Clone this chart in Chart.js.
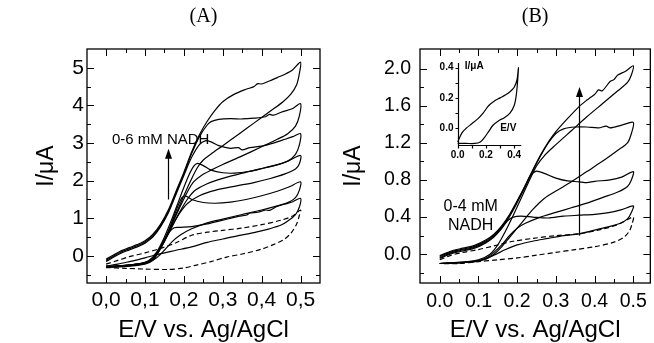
<!DOCTYPE html>
<html>
<head>
<meta charset="utf-8">
<script src="https://cdn.jsdelivr.net/npm/chart.js@4.4.1/dist/chart.umd.min.js"></script>
<style>
  html, body { margin: 0; padding: 0; background: #fff; }
  #wrap { position: relative; width: 654px; height: 343px; overflow: hidden; }
  #wrap canvas { position: absolute; }
</style>
</head>
<body>
<div id="wrap">
  <canvas id="chartA" width="327" height="343" style="left:0;top:0"></canvas>
  <canvas id="chartB" width="327" height="343" style="left:327px;top:0"></canvas>
</div>
<script>
// ---------- Data: panel A (E / V, I / uA), each loop = forward then reverse ----------
const loopA0 = [[0,-0.22],[0.03,-0.12],[0.06,-0.02],[0.1,0.08],[0.14,0.2],[0.18,0.35],[0.22,0.55],[0.26,0.63],[0.3,0.68],[0.35,0.74],[0.4,0.83],[0.45,0.95],[0.48,1.06],[0.5,1.22],
  [0.497,1.08],[0.49,0.85],[0.475,0.6],[0.455,0.42],[0.43,0.3],[0.4,0.18],[0.35,0.05],[0.31,-0.03],[0.27,-0.15],[0.23,-0.25],[0.2,-0.32],[0.16,-0.36],[0.1,-0.35],[0.05,-0.33],[0,-0.31]];
const loopA1 = [[0,-0.3],[0.05,-0.28],[0.1,-0.22],[0.12,-0.12],[0.14,0.2],[0.16,0.6],[0.175,0.75],[0.19,0.76],[0.22,0.78],[0.26,0.85],[0.3,0.95],[0.34,1.05],[0.36,1.08],[0.37,1.14],[0.39,1.16],[0.41,1.22],[0.42,1.21],[0.44,1.32],[0.46,1.38],[0.48,1.44],[0.5,1.53],
  [0.497,1.3],[0.487,1.1],[0.47,0.95],[0.45,0.82],[0.42,0.72],[0.38,0.62],[0.34,0.54],[0.3,0.45],[0.26,0.36],[0.22,0.24],[0.18,0.15],[0.14,0.06],[0.1,-0.05],[0.06,-0.15],[0.03,-0.22],[0,-0.27]];
const loopA2 = [[0,-0.3],[0.05,-0.27],[0.09,-0.22],[0.12,-0.1],[0.14,0.2],[0.16,0.65],[0.18,1.2],[0.195,1.55],[0.205,1.59],[0.22,1.5],[0.25,1.42],[0.28,1.4],[0.32,1.43],[0.36,1.5],[0.4,1.6],[0.44,1.72],[0.47,1.83],[0.5,1.97],
  [0.497,1.75],[0.487,1.55],[0.47,1.43],[0.44,1.33],[0.4,1.22],[0.35,1.1],[0.3,0.98],[0.26,0.88],[0.22,0.72],[0.19,0.55],[0.17,0.38],[0.15,0.15],[0.13,-0.05],[0.11,-0.17],[0.08,-0.24],[0.04,-0.27],[0,-0.3]];
const loopA3 = [[0,-0.28],[0.04,-0.26],[0.08,-0.22],[0.11,-0.12],[0.13,0.1],[0.15,0.5],[0.17,1.0],[0.19,1.55],[0.21,2.08],[0.225,2.38],[0.235,2.46],[0.25,2.4],[0.27,2.28],[0.3,2.21],[0.33,2.2],[0.37,2.25],[0.4,2.32],[0.44,2.42],[0.47,2.53],[0.5,2.67],
  [0.497,2.45],[0.487,2.31],[0.46,2.18],[0.42,2.05],[0.38,1.95],[0.33,1.85],[0.28,1.74],[0.24,1.6],[0.21,1.4],[0.19,1.15],[0.17,0.8],[0.15,0.4],[0.13,0.05],[0.11,-0.15],[0.08,-0.23],[0.04,-0.27],[0,-0.29]];
const loopA4 = [[0,-0.15],[0.02,-0.03],[0.04,0.08],[0.06,0.16],[0.08,0.24],[0.1,0.34],[0.12,0.5],[0.14,0.77],[0.16,1.14],[0.18,1.64],[0.2,2.14],[0.22,2.62],[0.24,2.96],[0.255,3.06],[0.27,3.03],[0.29,2.93],[0.32,2.86],[0.34,2.88],[0.35,2.82],[0.37,2.88],[0.4,2.92],[0.43,3.0],[0.46,3.1],[0.48,3.17],[0.5,3.25],
  [0.497,2.95],[0.487,2.7],[0.467,2.52],[0.43,2.4],[0.39,2.3],[0.35,2.2],[0.3,2.06],[0.26,1.92],[0.23,1.75],[0.21,1.52],[0.19,1.18],[0.17,0.78],[0.15,0.38],[0.13,0.04],[0.11,-0.15],[0.08,-0.23],[0.04,-0.27],[0,-0.29]];
const loopA5 = [[0,-0.12],[0.02,0.0],[0.04,0.11],[0.06,0.19],[0.08,0.27],[0.1,0.37],[0.12,0.53],[0.14,0.8],[0.16,1.18],[0.18,1.68],[0.2,2.18],[0.22,2.72],[0.24,3.17],[0.26,3.48],[0.27,3.57],[0.29,3.63],[0.32,3.65],[0.35,3.64],[0.38,3.66],[0.41,3.7],[0.42,3.76],[0.43,3.74],[0.45,3.82],[0.48,3.92],[0.5,4.05],
  [0.497,3.72],[0.487,3.45],[0.467,3.25],[0.44,3.1],[0.4,2.9],[0.35,2.66],[0.3,2.43],[0.27,2.28],[0.245,2.14],[0.225,1.97],[0.21,1.72],[0.19,1.3],[0.17,0.85],[0.15,0.42],[0.13,0.06],[0.11,-0.14],[0.08,-0.22],[0.04,-0.26],[0,-0.28]];
const loopA6 = [[0,-0.09],[0.02,0.03],[0.04,0.14],[0.06,0.22],[0.08,0.3],[0.1,0.4],[0.12,0.57],[0.14,0.84],[0.16,1.22],[0.18,1.72],[0.2,2.22],[0.22,2.76],[0.24,3.22],[0.26,3.58],[0.28,3.87],[0.3,4.1],[0.33,4.3],[0.36,4.43],[0.38,4.5],[0.39,4.58],[0.4,4.57],[0.42,4.65],[0.44,4.74],[0.46,4.83],[0.48,4.95],[0.5,5.15],
  [0.497,4.85],[0.49,4.55],[0.475,4.3],[0.455,4.1],[0.42,3.83],[0.38,3.53],[0.34,3.23],[0.3,2.93],[0.27,2.71],[0.25,2.55],[0.235,2.35],[0.22,2.05],[0.2,1.6],[0.18,1.12],[0.16,0.65],[0.14,0.22],[0.12,-0.08],[0.1,-0.18],[0.06,-0.24],[0.03,-0.27],[0,-0.29]];

// ---------- Data: panel B ----------
const loopB0 = [[0,-0.06],[0.03,-0.01],[0.06,0.02],[0.1,0.05],[0.14,0.09],[0.19,0.14],[0.24,0.17],[0.3,0.2],[0.36,0.22],[0.42,0.27],[0.46,0.32],[0.5,0.4],
  [0.497,0.33],[0.49,0.25],[0.475,0.18],[0.45,0.13],[0.4,0.08],[0.35,0.05],[0.3,0.02],[0.25,-0.01],[0.2,-0.04],[0.15,-0.06],[0.1,-0.08],[0.05,-0.1],[0,-0.1]];
const loopB1 = [[0,-0.045],[0.03,0.005],[0.06,0.035],[0.09,0.065],[0.12,0.125],[0.14,0.185],[0.16,0.275],[0.175,0.36],[0.19,0.4],[0.21,0.41],[0.24,0.4],[0.28,0.39],[0.32,0.41],[0.36,0.42],[0.4,0.43],[0.44,0.45],[0.47,0.48],[0.5,0.52],
  [0.495,0.45],[0.485,0.38],[0.465,0.33],[0.44,0.3],[0.4,0.26],[0.36,0.22],[0.32,0.2],[0.28,0.17],[0.24,0.14],[0.2,0.1],[0.17,0.05],[0.14,-0.01],[0.11,-0.06],[0.07,-0.08],[0.03,-0.09],[0,-0.1]];
const loopB2 = [[0,-0.035],[0.03,0.015],[0.06,0.045],[0.09,0.075],[0.12,0.135],[0.14,0.195],[0.16,0.285],[0.18,0.405],[0.2,0.555],[0.22,0.72],[0.235,0.85],[0.25,0.895],[0.27,0.87],[0.3,0.82],[0.33,0.79],[0.36,0.78],[0.38,0.77],[0.4,0.785],[0.44,0.8],[0.47,0.83],[0.5,0.89],
  [0.495,0.8],[0.485,0.73],[0.46,0.67],[0.42,0.61],[0.38,0.55],[0.34,0.5],[0.3,0.45],[0.26,0.4],[0.22,0.33],[0.2,0.28],[0.18,0.2],[0.16,0.1],[0.14,0.02],[0.12,-0.04],[0.09,-0.08],[0.05,-0.09],[0,-0.1]];
const loopB3 = [[0,-0.025],[0.03,0.025],[0.06,0.055],[0.09,0.085],[0.12,0.145],[0.14,0.205],[0.16,0.295],[0.18,0.415],[0.2,0.565],[0.22,0.725],[0.24,0.895],[0.26,1.055],[0.28,1.195],[0.3,1.3],[0.32,1.35],[0.35,1.37],[0.38,1.37],[0.41,1.36],[0.43,1.38],[0.44,1.36],[0.47,1.39],[0.5,1.42],
  [0.495,1.3],[0.485,1.2],[0.46,1.12],[0.42,1.0],[0.38,0.89],[0.34,0.78],[0.3,0.68],[0.27,0.6],[0.24,0.48],[0.22,0.38],[0.2,0.28],[0.18,0.18],[0.16,0.08],[0.14,0.0],[0.12,-0.05],[0.09,-0.08],[0.05,-0.09],[0,-0.1]];
const loopB4 = [[0,-0.015],[0.03,0.035],[0.06,0.065],[0.09,0.095],[0.12,0.155],[0.14,0.215],[0.16,0.305],[0.18,0.425],[0.2,0.575],[0.22,0.735],[0.24,0.905],[0.26,1.065],[0.28,1.205],[0.3,1.32],[0.33,1.46],[0.36,1.59],[0.38,1.66],[0.39,1.69],[0.4,1.72],[0.41,1.77],[0.42,1.76],[0.44,1.86],[0.45,1.88],[0.46,1.93],[0.48,1.97],[0.5,2.03],
  [0.495,1.93],[0.485,1.85],[0.46,1.76],[0.42,1.62],[0.38,1.48],[0.34,1.33],[0.3,1.18],[0.27,1.06],[0.25,0.95],[0.23,0.78],[0.21,0.6],[0.19,0.42],[0.17,0.25],[0.15,0.1],[0.13,0.0],[0.1,-0.06],[0.06,-0.09],[0,-0.1]];

// ---------- Data: inset of panel B ----------
const loopInset = [[0,-0.09],[0.03,-0.03],[0.06,0.0],[0.1,0.03],[0.14,0.06],[0.18,0.1],[0.22,0.15],[0.26,0.18],[0.3,0.2],[0.34,0.22],[0.37,0.24],[0.4,0.27],[0.42,0.32],[0.43,0.4],
  [0.425,0.32],[0.415,0.22],[0.4,0.15],[0.37,0.1],[0.33,0.07],[0.29,0.05],[0.25,0.02],[0.22,-0.02],[0.19,-0.06],[0.16,-0.09],[0.12,-0.1],[0.06,-0.1],[0,-0.1]];

// ---------- Ticks ----------
const xTickVals = [0, 0.1, 0.2, 0.3, 0.4, 0.5];
const xMinor = [0.05, 0.15, 0.25, 0.35, 0.45];
const xLabelsA = ['0,0', '0,1', '0,2', '0,3', '0,4', '0,5'];
const xLabelsB = ['0.0', '0.1', '0.2', '0.3', '0.4', '0.5'];
const yTickValsA = [0, 1, 2, 3, 4, 5];
const yLabelsA = ['0', '1', '2', '3', '4', '5'];
const yMinorA = [-0.5, 0.5, 1.5, 2.5, 3.5, 4.5];
const yTickValsB = [0, 0.4, 0.8, 1.2, 1.6, 2.0];
const yLabelsB = ['0.0', '0.4', '0.8', '1.2', '1.6', '2.0'];
const yMinorB = [-0.2, 0.2, 0.6, 1.0, 1.4, 1.8];
const insetXVals = [0, 0.1, 0.2, 0.3, 0.4];
const insetXLabels = ['0.0', '', '0.2', '', '0.4'];
const insetYVals = [0, 0.1, 0.2, 0.3, 0.4];
const insetYLabels = ['0.0', '', '0.2', '', '0.4'];
const insetXRange = [0, 0.45];
const insetYRange = [-0.11, 0.43];

// hidden scales of panel B that put the inset in its upper-left corner
const insetScaleX = { min: -0.267, max: 1.364 };
const insetScaleY = { min: -1.019, max: 0.522 };

// tick sets for the framed panels, keyed by canvas id
const frameSets = {
  chartA: { xMajor: xTickVals, xMinor: xMinor, yMajor: yTickValsA, yMinor: yMinorA },
  chartB: { xMajor: xTickVals, xMinor: xMinor, yMajor: yTickValsB, yMinor: yMinorB }
};

Chart.defaults.font.family = "'Liberation Sans', Arial, sans-serif";
Chart.defaults.color = '#000';

// ---------- Drawing helpers ----------
function drawFrame(ctx, a, sx, sy, t) {
  ctx.lineWidth = 1.3;
  ctx.strokeRect(a.left, a.top, a.right - a.left, a.bottom - a.top);
  ctx.lineWidth = 1;
  ctx.beginPath();
  t.xMajor.map(v => [v, 7]).concat(t.xMinor.map(v => [v, 4])).forEach(([v, len]) => {
    const p = Math.round(sx.getPixelForValue(v)) + 0.5;
    ctx.moveTo(p, a.bottom); ctx.lineTo(p, a.bottom - len);
    ctx.moveTo(p, a.top); ctx.lineTo(p, a.top + len);
  });
  t.yMajor.map(v => [v, 7]).concat(t.yMinor.map(v => [v, 4])).forEach(([v, len]) => {
    const p = Math.round(sy.getPixelForValue(v)) + 0.5;
    ctx.moveTo(a.left, p); ctx.lineTo(a.left + len, p);
    ctx.moveTo(a.right, p); ctx.lineTo(a.right - len, p);
  });
  ctx.stroke();
}

function drawInsetAxes(ctx, sx, sy) {
  const x0 = Math.round(sx.getPixelForValue(insetXRange[0])) + 0.5;
  const x1 = sx.getPixelForValue(insetXRange[1]);
  const y0 = Math.round(sy.getPixelForValue(insetYRange[0])) + 0.5;
  const y1 = sy.getPixelForValue(insetYRange[1]);
  ctx.lineWidth = 1.2;
  ctx.beginPath();
  ctx.moveTo(x0, y1); ctx.lineTo(x0, y0); ctx.lineTo(x1, y0);
  insetXVals.forEach(v => {
    const p = Math.round(sx.getPixelForValue(v)) + 0.5;
    ctx.moveTo(p, y0); ctx.lineTo(p, y0 + 3);
  });
  insetYVals.forEach(v => {
    const p = Math.round(sy.getPixelForValue(v)) + 0.5;
    ctx.moveTo(x0, p); ctx.lineTo(x0 - 3, p);
  });
  ctx.stroke();
  ctx.font = "bold 10px 'Liberation Sans', Arial, sans-serif";
  ctx.textBaseline = 'middle';
  ctx.textAlign = 'center';
  insetXVals.forEach((v, i) => ctx.fillText(insetXLabels[i], sx.getPixelForValue(v), y0 + 10));
  ctx.textAlign = 'right';
  insetYVals.forEach((v, i) => ctx.fillText(insetYLabels[i], x0 - 5, sy.getPixelForValue(v)));
}

// ---------- Plugin: frame, inset axes, heading, texts and arrows ----------
const decor = {
  id: 'decor',
  afterDraw(chart, args, o) {
    const { ctx, chartArea: a } = chart;
    ctx.save();
    ctx.setLineDash([]);
    ctx.fillStyle = '#000';
    ctx.strokeStyle = '#000';
    const t = frameSets[chart.canvas.id];
    if (t) drawFrame(ctx, a, chart.scales.x, chart.scales.y, t);
    if (chart.scales.xi && chart.scales.yi) drawInsetAxes(ctx, chart.scales.xi, chart.scales.yi);
    if (o.heading) {
      ctx.font = o.heading.font;
      ctx.textAlign = 'center';
      ctx.textBaseline = 'middle';
      ctx.fillText(o.heading.text, (a.left + a.right) / 2, o.heading.y);
    }
    (o.texts || []).forEach(tt => {
      const sx = chart.scales[tt.xs || 'x'], sy = chart.scales[tt.ys || 'y'];
      ctx.font = tt.font;
      ctx.textAlign = tt.align;
      ctx.textBaseline = 'middle';
      ctx.fillText(tt.text, sx.getPixelForValue(tt.x), sy.getPixelForValue(tt.y));
    });
    (o.arrows || []).forEach(ar => {
      const sx = chart.scales.x, sy = chart.scales.y;
      const px = Math.round(sx.getPixelForValue(ar.x)) + 0.5;
      const p0 = sy.getPixelForValue(ar.y0), p1 = sy.getPixelForValue(ar.y1);
      ctx.lineWidth = 1.2;
      ctx.beginPath();
      ctx.moveTo(px, p0); ctx.lineTo(px, p1 + 8);
      ctx.stroke();
      ctx.beginPath();
      ctx.moveTo(px, p1); ctx.lineTo(px - 3.5, p1 + 10); ctx.lineTo(px + 3.5, p1 + 10);
      ctx.closePath();
      ctx.fill();
    });
    ctx.restore();
  }
};

function loopDataset(loop, dashed, xid, yid) {
  return {
    data: loop.map(p => ({ x: p[0], y: p[1] })),
    xAxisID: xid || 'x',
    yAxisID: yid || 'y',
    showLine: true,
    borderColor: '#000',
    borderWidth: 1.2,
    borderDash: dashed ? [5, 3] : [],
    pointRadius: 0,
    tension: 0.3
  };
}

function panelOptions(cfg) {
  const scales = {
    x: {
      type: 'linear', position: 'bottom', min: cfg.xMin, max: cfg.xMax,
      afterBuildTicks: s => { s.ticks = xTickVals.map(v => ({ value: v })); },
      afterFit: s => { s.height = 60; },
      grid: { display: false, drawTicks: false, tickLength: 0 }, border: { display: false },
      ticks: { autoSkip: false, maxRotation: 0, padding: cfg.xPad, font: { size: cfg.tickSize }, callback: (v, i) => cfg.xLabels[i] },
      title: { display: true, text: 'E/V vs. Ag/AgCl', font: { size: 24, lineHeight: 1 }, padding: { top: 0, bottom: 1 } }
    },
    y: {
      type: 'linear', position: 'left', min: cfg.yMin, max: cfg.yMax,
      afterBuildTicks: s => { s.ticks = cfg.yVals.map(v => ({ value: v })); },
      afterFit: s => { s.width = cfg.yWidth; },
      grid: { display: false, drawTicks: false, tickLength: 0 }, border: { display: false },
      ticks: { autoSkip: false, padding: cfg.yPad, font: { size: cfg.tickSize }, callback: (v, i) => cfg.yLabels[i] },
      title: { display: true, text: 'I/μA', font: { size: 23, lineHeight: 1 }, padding: { top: cfg.yTitlePad, bottom: 0 } }
    }
  };
  Object.assign(scales, cfg.extraScales || {});
  return {
    responsive: false,
    animation: false,
    events: [],
    layout: { padding: cfg.padding },
    plugins: {
      legend: { display: false },
      tooltip: { enabled: false },
      decor: cfg.decor
    },
    scales: scales
  };
}

// ---------- Panel A ----------
new Chart(document.getElementById('chartA'), {
  type: 'scatter',
  data: {
    datasets: [
      loopDataset(loopA0, true), loopDataset(loopA1), loopDataset(loopA2), loopDataset(loopA3),
      loopDataset(loopA4), loopDataset(loopA5), loopDataset(loopA6)
    ]
  },
  options: panelOptions({
    padding: { left: 0, top: 49, right: 7, bottom: 0 },
    xMin: -0.049, xMax: 0.55, yMin: -0.72, yMax: 5.5,
    yWidth: 87, yPad: 3, xPad: 5, yTitlePad: 35, tickSize: 21,
    xLabels: xLabelsA, yVals: yTickValsA, yLabels: yLabelsA,
    decor: {
      heading: { text: '(A)', y: 17, font: "20px 'Liberation Serif', 'Times New Roman', serif" },
      texts: [{ text: '0-6 mM NADH', x: 0.015, y: 3.08, align: 'left', font: "15px 'Liberation Sans', Arial, sans-serif" }],
      arrows: [{ x: 0.16, y0: 1.5, y1: 2.85 }]
    }
  }),
  plugins: [decor]
});

// ---------- Panel B (with inset) ----------
new Chart(document.getElementById('chartB'), {
  type: 'scatter',
  data: {
    datasets: [
      loopDataset(loopB0, true), loopDataset(loopB1), loopDataset(loopB2),
      loopDataset(loopB3), loopDataset(loopB4),
      loopDataset(loopInset, false, 'xi', 'yi')
    ]
  },
  options: panelOptions({
    padding: { left: 0, top: 49, right: 2, bottom: 0 },
    xMin: -0.051, xMax: 0.544, yMin: -0.31, yMax: 2.21,
    yWidth: 93, yPad: 9, xPad: 7, yTitlePad: 15, tickSize: 19.5,
    xLabels: xLabelsB, yVals: yTickValsB, yLabels: yLabelsB,
    extraScales: {
      xi: { type: 'linear', display: false, position: 'bottom', axis: 'x', min: insetScaleX.min, max: insetScaleX.max },
      yi: { type: 'linear', display: false, position: 'left', axis: 'y', min: insetScaleY.min, max: insetScaleY.max }
    },
    decor: {
      heading: { text: '(B)', y: 17, font: "20px 'Liberation Serif', 'Times New Roman', serif" },
      texts: [
        { text: '0-4 mM', x: 0.08, y: 0.51, align: 'center', font: "16px 'Liberation Sans', Arial, sans-serif" },
        { text: 'NADH', x: 0.08, y: 0.31, align: 'center', font: "16px 'Liberation Sans', Arial, sans-serif" },
        { text: 'I/μA', x: 0.05, y: 0.41, xs: 'xi', ys: 'yi', align: 'left', font: "bold 10px 'Liberation Sans', Arial, sans-serif" },
        { text: 'E/V', x: 0.415, y: 0.0, xs: 'xi', ys: 'yi', align: 'right', font: "bold 10px 'Liberation Sans', Arial, sans-serif" }
      ],
      arrows: [{ x: 0.359, y0: 0.2, y1: 1.8 }]
    }
  }),
  plugins: [decor]
});
</script>
</body>
</html>
